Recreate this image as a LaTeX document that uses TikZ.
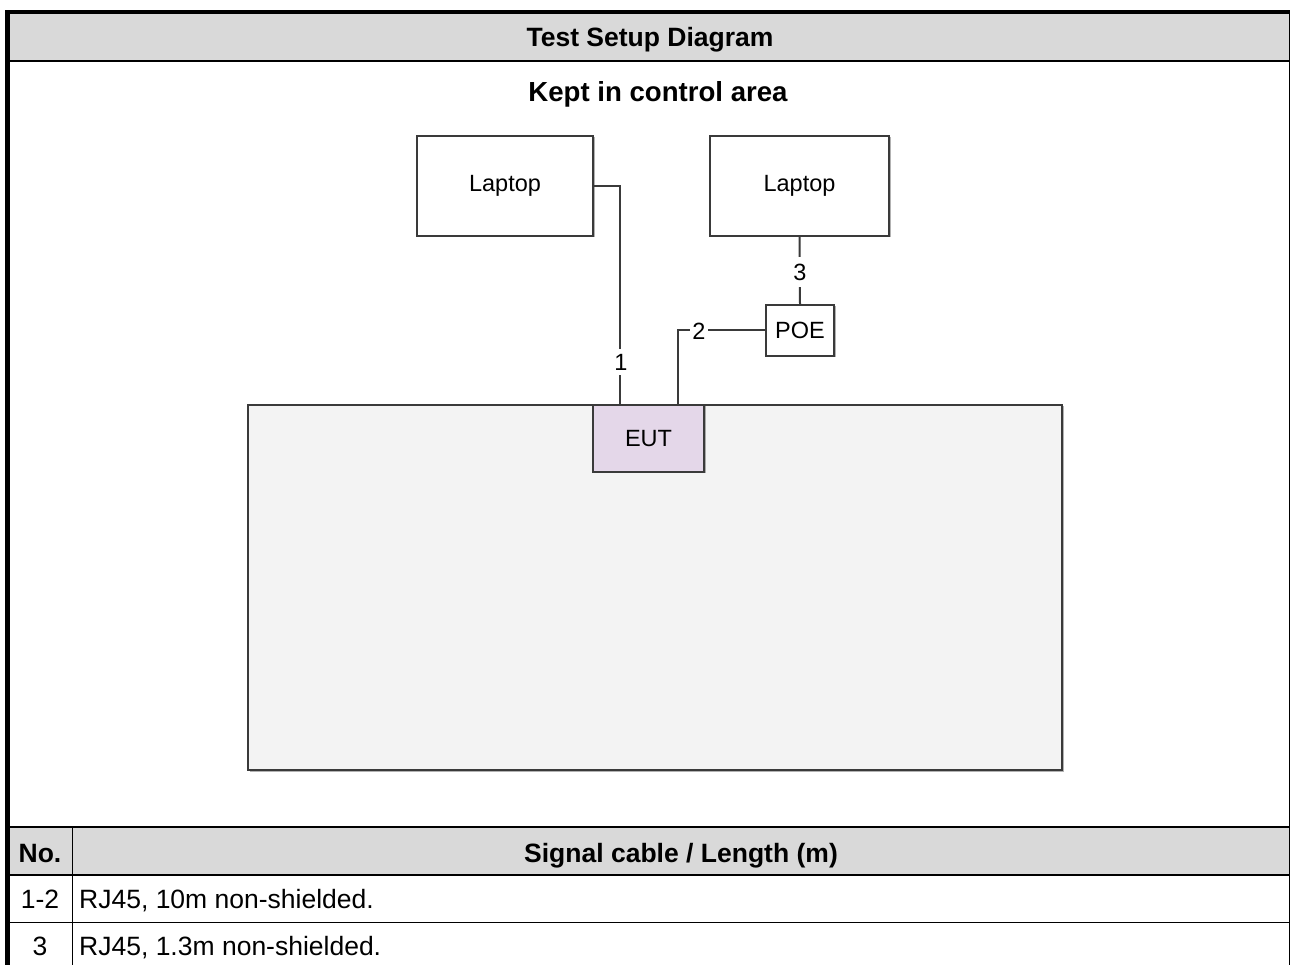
\documentclass[tikz,border=0pt]{standalone}
\usepackage{fontspec}
\setmainfont{Liberation Sans}
\usetikzlibrary{calc,shadows}

\definecolor{headgray}{HTML}{D9D9D9}
\definecolor{benchgray}{HTML}{F3F3F3}
\definecolor{eutfill}{HTML}{E4D7E9}
\definecolor{edgegray}{HTML}{3A3A3A}

\tikzset{
  unitbox/.style={draw=edgegray, line width=1.8pt, fill=white, inner sep=0pt,
    font=\fontsize{23.5}{27}\selectfont,
    drop shadow={shadow xshift=1.5pt, shadow yshift=-1.5pt, opacity=0.3, fill=black}},
  cable/.style={draw=edgegray, line width=2pt},
  cablelabel/.style={fill=white, inner xsep=2pt, inner ysep=5pt, font=\fontsize{23.5}{27}\selectfont},
  headtext/.style={font=\bfseries\fontsize{26.5}{30}\selectfont, anchor=base, inner sep=0pt},
  celltext/.style={font=\fontsize{26.5}{30}\selectfont, anchor=base, inner sep=0pt},
  rule/.style={line width=#1, draw=black}
}

\begin{document}
\begin{tikzpicture}[x=1pt, y=-1pt]
\useasboundingbox (0,0) rectangle (1291,965);
\fill[white] (0,0) rectangle (1291,965);

% outer frame and header band
\fill[headgray] (10,14) rectangle (1288.5,60);
\fill[black] (5,10) rectangle (10,965);
\fill[black] (5,10) rectangle (1290,14);
\fill[black] (1288.5,10) rectangle (1290,965);
\draw[rule=2pt] (10,61) -- (1288.5,61);
\node[headtext] (title) at (650,47) {Test Setup Diagram};

% cable table
\fill[headgray] (10,827.5) rectangle (1288.5,874.5);
\draw[rule=1.1pt] (10,827) -- (1288.5,827);
\draw[rule=1.6pt] (10,875) -- (1288.5,875);
\draw[rule=1.6pt] (10,922.5) -- (1288.5,922.5);
\draw[rule=1.2pt] (72.5,827) -- (72.5,965);
\node[headtext] (hno) at (40,862) {No.};
\node[headtext] (hcable) at (681,862) {Signal cable / Length (m)};
\node[celltext] (n12) at (40,908) {1-2};
\node[celltext, anchor=base west] (c12) at (79,908) {RJ45, 10m non-shielded.};
\node[celltext] (n3) at (40,955) {3};
\node[celltext, anchor=base west] (c3) at (79,955) {RJ45, 1.3m non-shielded.};

% setup drawing
\node[font=\bfseries\fontsize{27.6}{31}\selectfont, anchor=base, inner sep=0pt] (area) at (658,102) {Kept in control area};

\node[unitbox, fill=benchgray, minimum width=814pt, minimum height=365pt] (bench) at (655,587.5) {};
\node[unitbox, minimum width=176pt, minimum height=100pt] (lap1) at (505,186) {Laptop};
\node[unitbox, minimum width=179pt, minimum height=100pt] (lap2) at (799.5,186) {Laptop};
\node[unitbox, minimum width=68pt, minimum height=51pt] (poe) at (800,330.5) {POE};
\node[unitbox, fill=eutfill, minimum width=111pt, minimum height=67pt] (eut) at (648.5,438.5) {EUT};

\coordinate (eut1) at ($(eut.north west)+(28,0)$);
\coordinate (eut2) at ($(eut.north east)+(-27,0)$);

\draw[cable] (lap1.east) -| (eut1);
\draw[cable] (poe.west) -| (eut2);
\draw[cable] (lap2.south) -- (poe.north);

\node[cablelabel] (l1) at (621,362) {1};
\node[cablelabel, inner ysep=2pt] (l2) at (699,331) {2};
\node[cablelabel, inner ysep=7pt] (l3) at (800,272) {3};
\end{tikzpicture}
\end{document}
